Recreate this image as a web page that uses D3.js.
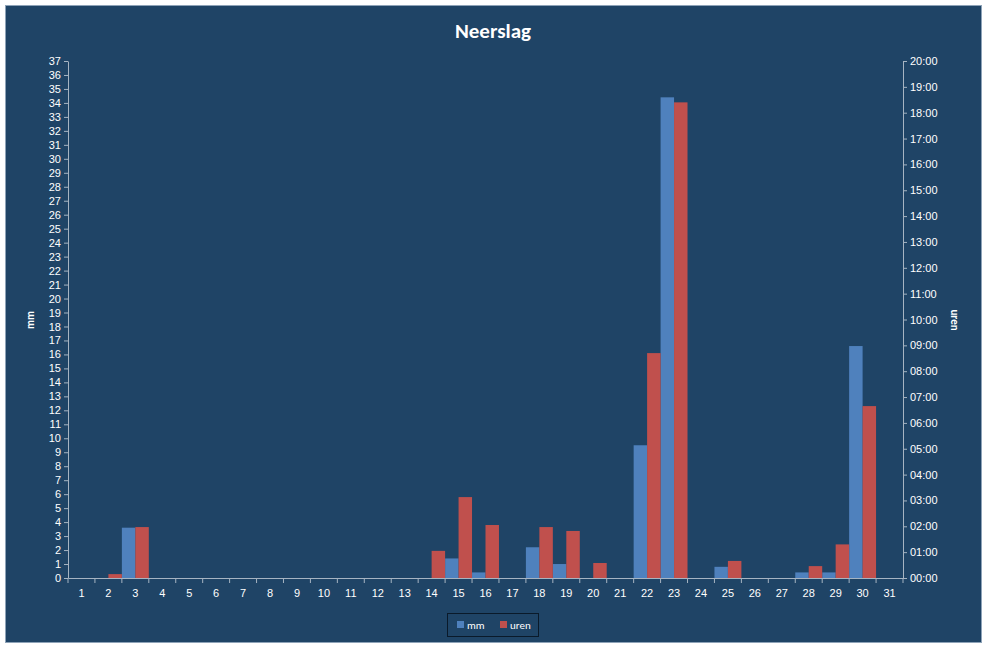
<!DOCTYPE html>
<html><head><meta charset="utf-8">
<script src="https://cdn.jsdelivr.net/npm/d3@7"></script>
<style>body{margin:0;background:#fff}svg{font-family:Calibri,"Liberation Sans",Arial,sans-serif}</style>
</head><body>
<svg id="c" width="987" height="648"></svg>
<script>
// days of the month
var days = d3.range(1, 32);
// mm per day
var mm = [0,0,3.6,0,0,0,0,0,0,0,0,0,0,0,1.4,0.4,0,2.2,1.0,0,0,9.5,34.4,0,0.8,0,0,0.4,0.4,16.6,0];
// hours of rain per day
var uren = [0,0.15,1.97,0,0,0,0,0,0,0,0,0,0,1.05,3.13,2.05,0,1.97,1.82,0.58,0,8.7,18.4,0,0.66,0,0,0.46,1.3,6.65,0];
var mmTicks = d3.range(0, 38);
var hourTicks = d3.range(0, 21);

var svg = d3.select("#c");
var plotLeft = 68, plotRight = 903, plotTop = 61, plotBottom = 578;

svg.append("rect").attr("x", 5.5).attr("y", 5.5).attr("width", 976).attr("height", 637)
    .attr("fill", "#1f4466").attr("stroke", "#8ea3b8");

svg.append("text").attr("x", 493).attr("y", 38).attr("text-anchor", "middle")
    .attr("fill", "#fff").attr("font-size", 21).attr("font-weight", "bold").text("Neerslag");

var x = d3.scaleBand().domain(days).range([plotLeft, plotRight]).padding(0);
var yL = d3.scaleLinear().domain([0, 37]).range([plotBottom, plotTop]);
var yR = d3.scaleLinear().domain([0, 20]).range([plotBottom, plotTop]);
var half = x.bandwidth() / 2;

// bars
svg.append("g").selectAll("rect").data(days).join("rect")
    .attr("x", d => x(d)).attr("width", half)
    .attr("y", (d, i) => yL(mm[i])).attr("height", (d, i) => plotBottom - yL(mm[i]))
    .attr("fill", "#4f81bd");
svg.append("g").selectAll("rect").data(days).join("rect")
    .attr("x", d => x(d) + half).attr("width", half)
    .attr("y", (d, i) => yR(uren[i])).attr("height", (d, i) => plotBottom - yR(uren[i]))
    .attr("fill", "#c0504d");

function styleAxis(g) {
    g.selectAll("path,line").attr("stroke", "#a6b4c2");
    g.selectAll("text").attr("fill", "#fff").attr("font-size", 11);
}

svg.append("g").attr("transform", "translate(" + plotLeft + ",0)")
    .call(d3.axisLeft(yL).tickValues(mmTicks).tickSize(4).tickSizeOuter(0))
    .call(styleAxis);
svg.append("g").attr("transform", "translate(" + plotRight + ",0)")
    .call(d3.axisRight(yR).tickValues(hourTicks).tickSize(4).tickSizeOuter(0)
        .tickFormat(d => d3.format("02")(d) + ":00"))
    .call(styleAxis);
var xg = svg.append("g").attr("transform", "translate(0," + plotBottom + ")")
    .call(d3.axisBottom(x).tickSize(0).tickPadding(11).tickSizeOuter(0))
    .call(styleAxis);
xg.selectAll("line.sep").data(days.concat([32])).join("line").attr("class", "sep")
    .attr("x1", d => d == 32 ? plotRight : x(d)).attr("x2", d => d == 32 ? plotRight : x(d))
    .attr("y1", 0).attr("y2", 5).attr("stroke", "#a6b4c2");

svg.append("text").attr("transform", "translate(34,320) rotate(-90)").attr("text-anchor", "middle")
    .attr("fill", "#fff").attr("font-size", 11).attr("font-weight", "bold").text("mm");
svg.append("text").attr("transform", "translate(951,320) rotate(90)").attr("text-anchor", "middle")
    .attr("fill", "#fff").attr("font-size", 11).attr("font-weight", "bold").text("uren");

// legend
var lg = svg.append("g");
lg.append("rect").attr("x", 447.5).attr("y", 613.5).attr("width", 91).attr("height", 23)
    .attr("fill", "#1f4466").attr("stroke", "#0a1a2a");
[["mm", "#4f81bd", 457], ["uren", "#c0504d", 500]].forEach(function (l) {
    lg.append("rect").attr("x", l[2]).attr("y", 621).attr("width", 7).attr("height", 7).attr("fill", l[1]);
    lg.append("text").attr("x", l[2] + 10).attr("y", 629).attr("fill", "#fff").attr("font-size", 11).text(l[0]);
});
</script>
</body></html>
